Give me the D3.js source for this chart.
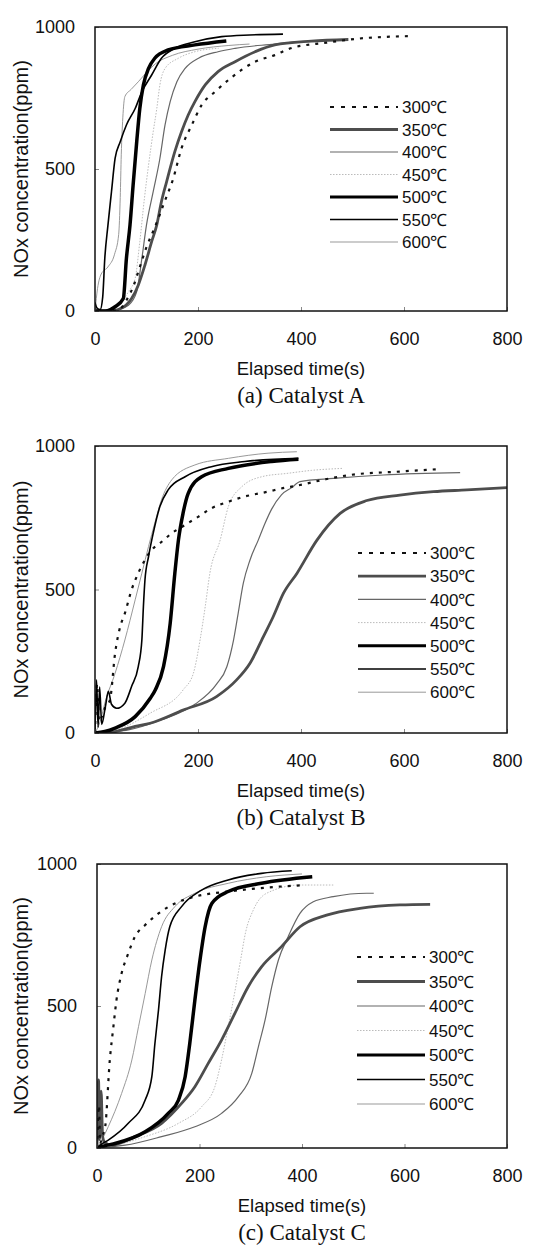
<!DOCTYPE html>
<html>
<head>
<meta charset="utf-8">
<script src="https://cdn.jsdelivr.net/npm/d3@7"></script>
<style>
  body { margin: 0; background: #fff; }
  svg { display: block; }
</style>
</head>
<body>
<div id="chart"></div>
<script>
// ---- data ----
const temps = ['300℃', '350℃', '400℃', '450℃', '500℃', '550℃', '600℃'];
const xTicks = [0, 200, 400, 600, 800];
const yTicks = [0, 500, 1000];
const captions = ['(a) Catalyst A', '(b) Catalyst B', '(c) Catalyst C'];

// Catalyst A  [time(s), NOx(ppm)]
const a300 = [[0,0],[35,0],[50,10],[61,38],[74,85],[87,155],[100,225],[115,290],[126,340],[133,375],[152,467],[168,573],[188,655],[207,725],[233,772],[265,822],[311,878],[349,901],[380,925],[450,945],[505,958],[615,968]];
const a350 = [[0,0],[30,0],[45,5],[60,20],[71,44],[84,91],[97,162],[110,244],[120,303],[129,385],[139,455],[155,561],[168,631],[181,690],[194,737],[214,796],[239,843],[272,878],[311,913],[349,937],[420,950],[492,956]];
const a400 = [[0,0],[25,0],[45,5],[65,20],[81,68],[91,185],[100,303],[113,420],[126,537],[136,655],[146,737],[159,807],[175,854],[201,890],[239,913],[272,925],[349,940],[390,948]];
const a450 = [[0,0],[20,0],[40,15],[55,40],[65,68],[78,115],[87,244],[96,397],[104,514],[113,631],[120,713],[126,796],[136,854],[162,890],[194,913],[240,925]];
const a500 = [[0,0],[20,0],[30,5],[39,15],[55,44],[61,185],[68,303],[74,443],[81,596],[87,713],[94,796],[104,854],[116,890],[142,919],[194,937],[255,951]];
const a550 = [[0,30],[4,10],[10,5],[15,50],[19,185],[25,300],[32,420],[39,537],[49,596],[61,655],[78,713],[91,772],[110,831],[129,890],[155,925],[194,948],[246,966],[300,972],[365,975]];
const a600 = [[0,0],[5,80],[12,130],[25,155],[38,200],[46,270],[49,400],[51,550],[54,680],[58,755],[70,780],[84,807],[100,840],[117,870],[150,900],[200,922],[260,935],[300,940]];

// Catalyst B
const b300 = [[0,0],[4,170],[8,40],[14,60],[20,90],[29,115],[39,278],[49,371],[58,417],[71,499],[84,557],[97,603],[110,638],[126,661],[149,696],[175,725],[201,754],[226,783],[259,806],[291,824],[336,841],[362,852],[398,864],[450,885],[495,899],[592,911],[663,919]];
const b350 = [[0,0],[20,0],[39,5],[78,23],[107,34],[171,80],[236,127],[275,185],[301,243],[327,336],[346,405],[366,487],[392,556],[431,672],[476,765],[528,810],[592,829],[657,841],[722,847],[800,855]];
const b400 = [[0,0],[40,5],[65,11],[129,46],[194,100],[236,170],[256,231],[269,324],[278,417],[288,522],[301,603],[317,672],[330,730],[343,780],[362,830],[382,855],[398,876],[463,887],[560,899],[709,907]];
const b450 = [[0,0],[40,10],[107,69],[171,150],[191,208],[204,324],[214,440],[223,556],[243,672],[259,789],[285,858],[324,893],[375,905],[420,915],[480,922]];
const b500 = [[0,0],[19,5],[39,17],[78,57],[107,120],[117,150],[133,231],[146,382],[155,556],[162,672],[171,766],[181,835],[207,893],[259,922],[343,946],[395,954]];
const b550 = [[0,0],[3,185],[6,20],[9,160],[13,30],[20,90],[26,145],[32,100],[42,86],[58,104],[71,162],[84,231],[91,324],[94,441],[97,533],[104,615],[113,696],[126,789],[142,847],[175,893],[226,928],[291,946],[395,957]];
const b600 = [[0,0],[10,40],[20,110],[39,208],[58,324],[78,464],[91,557],[104,650],[116,731],[129,812],[149,882],[194,934],[259,957],[336,975],[392,980]];

// Catalyst C
const c300 = [[0,0],[4,150],[6,16],[10,40],[16,75],[25,310],[32,427],[38,521],[48,615],[61,685],[74,744],[94,785],[120,826],[152,861],[191,885],[256,903],[354,920],[400,925]];
const c350 = [[0,0],[3,240],[5,30],[8,200],[11,40],[15,20],[29,10],[74,40],[126,87],[165,157],[191,216],[217,298],[243,380],[269,474],[295,568],[321,638],[360,709],[396,779],[448,820],[513,844],[591,856],[650,858]];
const c400 = [[0,0],[30,5],[55,10],[126,40],[191,75],[243,122],[276,181],[302,263],[315,357],[328,451],[341,568],[354,662],[373,744],[396,826],[422,867],[461,885],[526,897],[540,897]];
const c450 = [[0,0],[35,10],[94,40],[159,87],[204,145],[230,216],[243,310],[256,427],[270,560],[280,660],[290,760],[305,838],[331,897],[396,926],[461,926]];
const c500 = [[0,0],[20,10],[35,16],[94,57],[139,122],[159,169],[172,251],[181,368],[191,521],[201,662],[211,779],[224,861],[256,903],[321,932],[420,955]];
const c550 = [[0,0],[10,15],[22,28],[61,87],[94,169],[107,251],[113,368],[120,486],[126,603],[133,697],[142,779],[165,850],[204,908],[256,944],[321,967],[380,976]];
const c600 = [[0,0],[10,30],[22,75],[48,192],[68,310],[81,427],[94,544],[107,662],[126,779],[152,850],[191,897],[256,932],[330,955],[400,965]];

// ---- styles / layout ----
const SANS = "'Liberation Sans', Arial, sans-serif";
const SERIF = "'Liberation Serif', 'Times New Roman', serif";
const WIDTH = 538;
const HEIGHT = 1248;

const lineStyles = [
  { stroke: '#111', width: 2.2, dash: '3,6' },     // 300
  { stroke: '#4d4d4d', width: 2.8, dash: null },   // 350
  { stroke: '#666', width: 1.2, dash: null },      // 400
  { stroke: '#bbb', width: 1.0, dash: '1.5,1.5' }, // 450
  { stroke: '#000', width: 3.5, dash: null },      // 500
  { stroke: '#000', width: 1.6, dash: null },      // 550
  { stroke: '#999', width: 1.0, dash: null },      // 600
];
// light lines first, heavy black ones on top
const drawOrder = [3, 6, 2, 1, 0, 5, 4];

const panels = [
  { caption: captions[0], series: [a300, a350, a400, a450, a500, a550, a600],
    left: 95, right: 507, top: 27, bottom: 311, legX: 330, legY: 107, legStep: 22.5 },
  { caption: captions[1], series: [b300, b350, b400, b450, b500, b550, b600],
    left: 95, right: 507, top: 446, bottom: 733, legX: 358, legY: 553, legStep: 23.2 },
  { caption: captions[2], series: [c300, c350, c400, c450, c500, c550, c600],
    left: 97, right: 507, top: 864, bottom: 1148, legX: 357, legY: 957, legStep: 24.5 },
];

const svg = d3
  .select('#chart')
  .append('svg')
  .attr('width', WIDTH)
  .attr('height', HEIGHT);

panels.forEach((p, i) => drawPanel(p, i));

/**
 * 1 枚分のグラフを描く
 */
function drawPanel(p, i) {
  const x = d3.scaleLinear().domain([0, 800]).range([p.left, p.right]);
  const y = d3.scaleLinear().domain([0, 1000]).range([p.bottom, p.top]);
  const g = svg.append('g');

  const clipId = 'clip' + i;
  g.append('clipPath')
    .attr('id', clipId)
    .append('rect')
    .attr('x', p.left)
    .attr('y', p.top)
    .attr('width', p.right - p.left)
    .attr('height', p.bottom - p.top);

  const line = d3
    .line()
    .x((d) => x(d[0]))
    .y((d) => y(d[1]))
    .curve(d3.curveMonotoneX);

  g.append('g')
    .attr('clip-path', `url(#${clipId})`)
    .selectAll('path')
    .data(drawOrder)
    .enter()
    .append('path')
    .attr('d', (k) => line(p.series[k]))
    .attr('fill', 'none')
    .attr('stroke', (k) => lineStyles[k].stroke)
    .attr('stroke-width', (k) => lineStyles[k].width)
    .attr('stroke-dasharray', (k) => lineStyles[k].dash)
    .attr('stroke-linejoin', 'round');

  // axes
  const xAxis = g
    .append('g')
    .attr('transform', `translate(0,${p.bottom})`)
    .call(d3.axisBottom(x).tickValues(xTicks).tickFormat(d3.format('d')).tickSize(-4).tickPadding(21));
  const yAxis = g
    .append('g')
    .attr('transform', `translate(${p.left},0)`)
    .call(d3.axisLeft(y).tickValues(yTicks).tickFormat(d3.format('d')).tickSize(-4).tickPadding(20));
  [xAxis, yAxis].forEach((ax) => {
    ax.select('.domain').remove();
    ax.selectAll('line').attr('stroke', '#888');
    ax.selectAll('text').attr('font-family', SANS).attr('font-size', 18).attr('fill', '#111');
  });

  // frame
  g.append('rect')
    .attr('x', p.left)
    .attr('y', p.top)
    .attr('width', p.right - p.left)
    .attr('height', p.bottom - p.top)
    .attr('fill', 'none')
    .attr('stroke', '#111')
    .attr('stroke-width', 1.5);

  // legend
  const leg = g
    .selectAll('.legend')
    .data(temps)
    .enter()
    .append('g')
    .attr('transform', (d, k) => `translate(${p.legX},${p.legY + k * p.legStep})`);
  leg.append('line')
    .attr('x1', 0)
    .attr('x2', 68)
    .attr('stroke', (d, k) => lineStyles[k].stroke)
    .attr('stroke-width', (d, k) => Math.min(lineStyles[k].width, 3))
    .attr('stroke-dasharray', (d, k) => (k === 0 ? '4,7' : lineStyles[k].dash));
  leg.append('text')
    .attr('x', 72)
    .attr('dy', '0.36em')
    .attr('font-family', SANS)
    .attr('font-size', 17)
    .attr('fill', '#111')
    .text((d) => d);

  // axis titles
  const midX = (p.left + p.right) / 2;
  g.append('text')
    .attr('transform', `translate(21,${(p.top + p.bottom) / 2}) rotate(-90)`)
    .attr('text-anchor', 'middle')
    .attr('dy', '0.36em')
    .attr('font-family', SANS)
    .attr('font-size', 20)
    .attr('fill', '#111')
    .text('NOx concentration(ppm)');
  g.append('text')
    .attr('x', midX)
    .attr('y', p.bottom + 64)
    .attr('text-anchor', 'middle')
    .attr('font-family', SANS)
    .attr('font-size', 18.5)
    .attr('fill', '#111')
    .text('Elapsed time(s)');
  g.append('text')
    .attr('x', midX)
    .attr('y', p.bottom + 92)
    .attr('text-anchor', 'middle')
    .attr('font-family', SERIF)
    .attr('font-size', 23)
    .attr('fill', '#111')
    .text(p.caption);
}
</script>
</body>
</html>
